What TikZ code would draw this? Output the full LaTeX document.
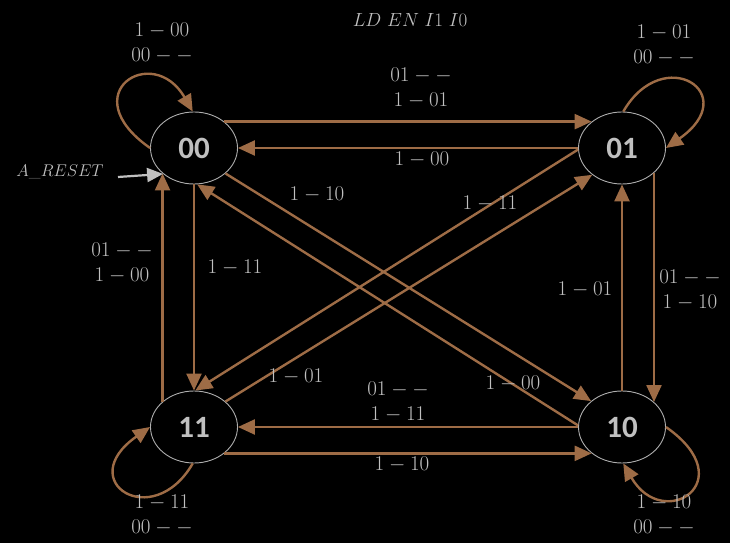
\documentclass[tikz,border=0pt]{standalone}
\usepackage{fix-cm}
\usepackage{fontspec}
\newfontfamily\statefont{Carlito}
\usetikzlibrary{arrows.meta,shapes.geometric}
\definecolor{edgebrown}{RGB}{158,108,70}
\definecolor{lblgray}{RGB}{192,192,192}
\definecolor{ringgray}{RGB}{175,175,175}
\begin{document}
\begin{tikzpicture}[x=1pt,y=1pt,
  state/.style={draw=ringgray, line width=0.9pt, ellipse, minimum width=87pt, minimum height=72pt, inner sep=0pt, text=lblgray, font=\statefont\bfseries\fontsize{31}{31}\selectfont},
  edge/.style={draw=edgebrown, line width=2.4pt, -{Triangle[length=17pt,width=15pt]}},
  resetarrow/.style={draw=lblgray, line width=2.2pt, -{Triangle[length=16pt,width=14pt]}},
  lbl/.style={text=lblgray, font=\fontsize{21}{25}\selectfont, align=center, inner sep=0pt},
]
\fill[black] (0,0) rectangle (730,543);
\useasboundingbox (0,0) rectangle (730,543);

\node[state] (n00) at (194,395) {00};
\node[state] (n01) at (622,395) {01};
\node[state] (n11) at (194,116) {11};
\node[state] (n10) at (622,116) {10};

% straight edges
\draw[edge] (n00.41) -- (n01.139);
\draw[edge] (n01.west) -- (n00.east);
\draw[edge] (n00.-39) -- (n10.140);
\draw[edge] (n10.178) -- (n00.-85);
\draw[edge] (n01.182) -- (n11.88);
\draw[edge] (n11.39) -- (n01.222);
\draw[edge] (n00.south) -- (n11.north);
\draw[edge] (n11.141) -- (n00.219);
\draw[edge] (n01.-38) -- (n10.38);
\draw[edge] (n10.north) -- (n01.south);
\draw[edge] (n10.west) -- (n11.east);
\draw[edge] (n11.-41) -- (n10.-139);

% self loops
\draw[edge] (n00.180) .. controls +(145:95) and +(120:80) .. (n00.92);
\draw[edge] (n01.88) .. controls +(60:80) and +(35:95) .. (n01.0);
\draw[edge] (n11.-92) .. controls +(-120:80) and +(-145:95) .. (n11.180);
\draw[edge] (n10.0) .. controls +(-35:95) and +(-60:80) .. (n10.-88);

% reset
\node[lbl, font=\fontsize{17}{20}\selectfont] (reset) at (60,371) {$A\_RESET$};
\coordinate (rs) at (118,366);
\draw[resetarrow] (rs) -- (n00.220);

% labels
\node[lbl, font=\fontsize{19}{22}\selectfont] (hdr) at (410,523) {$LD\ EN\ I1\ I0$};
\node[lbl] (l00) at (162,500) {$1 - 00$\\$00 - {-}$};
\node[lbl] (l01) at (664,498) {$1 - 01$\\$00 - {-}$};
\node[lbl] (l11) at (162,28) {$1 - 11$\\$00 - {-}$};
\node[lbl] (l10) at (664,28) {$1 - 10$\\$00 - {-}$};
\node[lbl] (e1) at (421,455) {$01 - {-}$\\$1 - 01$};
\node[lbl] (e2) at (422,383) {$1 - 00$};
\node[lbl] (e3) at (317,348) {$1 - 10$};
\node[lbl] (e5) at (490,339) {$1 - 11$};
\node[lbl] (e7) at (235,275) {$1 - 11$};
\node[lbl] (e8) at (122,280) {$01 - {-}$\\$1 - 00$};
\node[lbl] (e10) at (585,253) {$1 - 01$};
\node[lbl] (e9) at (690,253) {$01 - {-}$\\$1 - 10$};
\node[lbl] (e6) at (296,166) {$1 - 01$};
\node[lbl] (e4) at (513,159) {$1 - 00$};
\node[lbl] (e11) at (398,141) {$01 - {-}$\\$1 - 11$};
\node[lbl] (e12) at (402,78) {$1 - 10$};
\end{tikzpicture}
\end{document}
